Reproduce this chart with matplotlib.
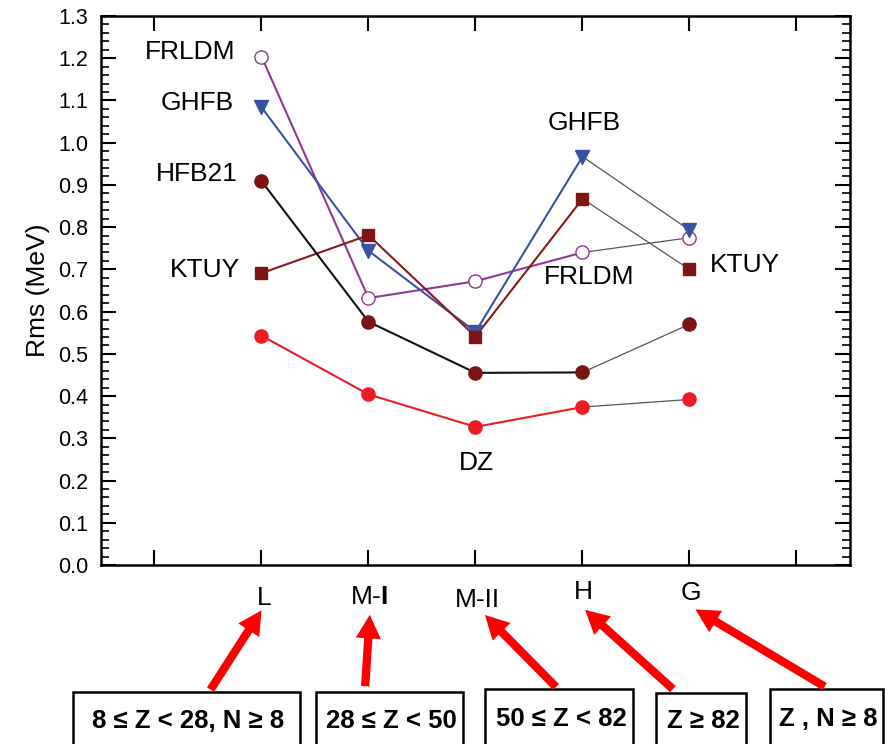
import matplotlib
matplotlib.use("Agg")
import matplotlib.pyplot as plt
from matplotlib.patches import Rectangle, FancyArrowPatch
from matplotlib.ticker import MultipleLocator, FixedLocator

plt.rcParams['font.family'] = ['Liberation Sans', 'DejaVu Sans']
plt.rcParams['mathtext.fontset'] = 'custom'
plt.rcParams['mathtext.rm'] = 'Liberation Sans'
plt.rcParams['mathtext.bf'] = 'Liberation Sans:bold'

categories = ["L", "M-$\\mathbf{I}$", "M-II", "H", "G"]
x_pos = [2, 3, 4, 5, 6]

dz     = [0.543, 0.404, 0.327, 0.374, 0.392]
hfb21  = [0.909, 0.576, 0.455, 0.456, 0.570]
ktuy   = [0.691, 0.781, 0.541, 0.867, 0.700]
ghfb   = [1.084, 0.744, 0.552, 0.967, 0.793]
frldm  = [1.204, 0.632, 0.672, 0.740, 0.775]

y_ticks = [i / 10 for i in range(14)]
y_tick_labels = [f"{v:.1f}" for v in y_ticks]

box_texts = ["8 \u2264 Z < 28, N \u2265 8", "28 \u2264 Z < 50", "50 \u2264 Z < 82",
             "Z \u2265 82", "Z , N \u2265 8"]

W, H = 895, 744
fig = plt.figure(figsize=(W / 100, H / 100), dpi=100)
ax = fig.add_axes([101 / W, 1 - 565 / H, (850 - 101) / W, (565 - 16) / H])

thin = dict(color='#555555', lw=0.9)

series = [
    (frldm, 'o', 'white', '#8e3a93', '#8e3a93', 9.5),
    (ghfb, 'v', '#3953a4', '#3953a4', '#3953a4', 10.5),
    (ktuy, 's', '#7f1416', '#7f1416', '#8b1a1a', 8.5),
    (hfb21, 'o', '#7b1416', '#7b1416', '#111111', 9.5),
    (dz, 'o', '#ed1c24', '#ed1c24', '#ed1c24', 9.5),
]

for vals, mk, fc, ec, lc, ms in series:
    ax.plot(x_pos[:4], vals[:4], color=lc, lw=1.5, zorder=2)
    ax.plot(x_pos[3:], vals[3:], **thin, zorder=2)
    ax.plot(x_pos, vals, ls='none', marker=mk, ms=ms, mfc=fc, mec=ec,
            mew=1.0, zorder=3)

ax.set_xlim(0.5, 7.5)
ax.set_ylim(0.0, 1.3)
ax.set_yticks(y_ticks)
ax.set_yticklabels(y_tick_labels)
ax.yaxis.set_minor_locator(MultipleLocator(0.02))
ax.xaxis.set_major_locator(FixedLocator([1, 2, 3, 4, 5, 6, 7]))
ax.xaxis.set_ticklabels([])
ax.tick_params(axis='both', which='major', direction='in', length=11, width=1.5,
               top=True, right=True, labelsize=15.5, pad=9)
ax.tick_params(axis='both', which='minor', direction='in', length=6, width=1.2,
               top=False, right=True)
for s in ax.spines.values():
    s.set_linewidth(1.8)
ax.set_ylabel("Rms (MeV)", fontsize=19, labelpad=6)

# category labels below axis
label_px = [(264, 598), (369, 597), (477, 600), (583, 592), (691, 593)]
for (px, py), lab in zip(label_px, categories):
    fig.text(px / W, 1 - py / H, lab, ha='center', va='center', fontsize=19)

# series labels
lbl = dict(fontsize=19)
ax.text(1.756, 1.215, "FRLDM", ha='right', va='center', **lbl)
ax.text(1.74, 1.094, "GHFB", ha='right', va='center', **lbl)
ax.text(1.78, 0.926, "HFB21", ha='right', va='center', **lbl)
ax.text(1.80, 0.699, "KTUY", ha='right', va='center', **lbl)
ax.text(5.02, 1.047, "GHFB", ha='center', va='center', **lbl)
ax.text(5.06, 0.682, "FRLDM", ha='center', va='center', **lbl)
ax.text(6.52, 0.710, "KTUY", ha='center', va='center', **lbl)
ax.text(4.01, 0.241, "DZ", ha='center', va='center', **lbl)

# boxes
boxes = [(73, 692, 300, 745), (316, 692, 463, 745), (485, 689, 633, 745),
         (656, 693, 746, 745), (770, 689, 883, 745)]
for (x0, y0, x1, y1), t in zip(boxes, box_texts):
    r = Rectangle((x0 / W, 1 - y1 / H), (x1 - x0) / W, (y1 - y0) / H,
                  transform=fig.transFigure, fill=False, lw=1.8, ec='black')
    fig.patches.append(r)
    fig.text((x0 + x1) / 2 / W + 2 / W, 1 - (y0 + y1 + 4) / 2 / H, t, ha='center',
             va='center', fontsize=18.5, fontweight='bold')

# arrows
arrows = [((209, 692), (263, 608)), ((365, 689), (370, 612)),
          ((558, 689), (483, 613)), ((675, 691), (583, 608)),
          ((827, 688), (693, 608))]
for (tx, ty), (hx, hy) in arrows:
    a = FancyArrowPatch((tx / W, 1 - ty / H), (hx / W, 1 - hy / H),
                        transform=fig.transFigure,
                        arrowstyle='simple,head_width=1.8,head_length=1.7,tail_width=0.6',
                        mutation_scale=10, color='#ff0000', lw=0)
    fig.patches.append(a)

fig.savefig("out.png", dpi=100)
